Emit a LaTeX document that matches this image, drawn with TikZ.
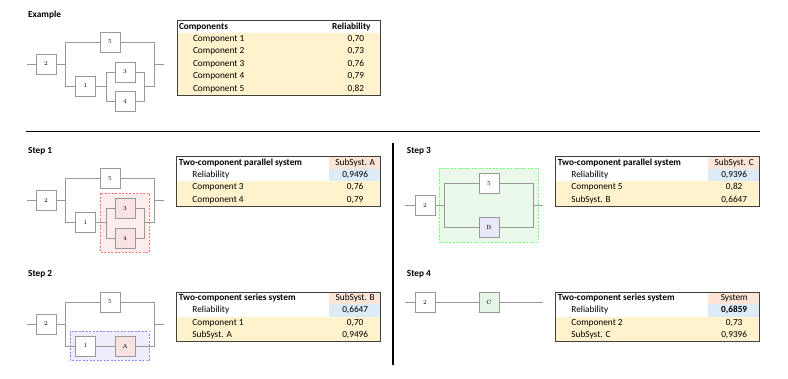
\documentclass[tikz,border=0pt]{standalone}
\usepackage{fontspec}
\newfontfamily\calfont{Carlito}
\usepackage{tikz}
\usepackage{xcolor}

\definecolor{cellyellow}{HTML}{FFF2CC}
\definecolor{cellpink}{HTML}{FCE4D6}
\definecolor{cellblue}{HTML}{DDEBF7}
\definecolor{wiregray}{HTML}{999999}
\definecolor{redarea}{HTML}{FDEDED}
\definecolor{redcomp}{HTML}{F8E2E2}
\definecolor{bluearea}{HTML}{EDEDFC}
\definecolor{bluecomp}{HTML}{E8E8F8}
\definecolor{greenarea}{HTML}{EBF9EB}
\definecolor{greencomp}{HTML}{E6F5E6}

\tikzset{
  comp/.style={draw=wiregray,fill=white,minimum size=20pt,inner sep=0pt,line width=0.8pt,font=\fontsize{6}{7}\selectfont},
  wire/.style={wiregray,line width=0.8pt},
  headtxt/.style={font=\calfont\fontsize{9.3}{10}\selectfont\bfseries,inner sep=0pt,text height=6.5pt,text depth=2pt},
  celltxt/.style={font=\calfont\fontsize{9.3}{10}\selectfont,inner sep=0pt,text height=6.5pt,text depth=2pt},
  steplabel/.style={font=\calfont\fontsize{9.3}{10}\selectfont\bfseries,anchor=west,inner sep=0pt},
  tableframe/.style={draw=black!75,line width=0.8pt},
  area/.style={line width=0.6pt,dash pattern=on 2pt off 1.5pt}
}

% #1 corner, #2 title, #3 subsystem, #4 reliability, #5-#8 the two inputs
\newcommand{\steptable}[8]{%
  \begin{scope}[shift={(#1)}]
    \fill[cellyellow] (0,24.7) rectangle (204,49.4);
    \fill[cellpink] (152.5,0) rectangle (204,12.35);
    \fill[cellblue] (152.5,12.35) rectangle (204,24.7);
    \draw[tableframe] (0,0) rectangle (204,49.4);
    \node[headtxt,anchor=west] (#1-title) at (2,6.2) {#2};
    \node[celltxt] (#1-name) at (178.5,6.2) {#3};
    \node[celltxt,anchor=west] (#1-rlab) at (15.5,18.5) {Reliability};
    \node[celltxt] (#1-rval) at (178.5,18.5) {#4};
    \node[celltxt,anchor=west] (#1-lab1) at (15.5,30.9) {#5};
    \node[celltxt] (#1-val1) at (178.5,30.9) {#6};
    \node[celltxt,anchor=west] (#1-lab2) at (15.5,43.2) {#7};
    \node[celltxt] (#1-val2) at (178.5,43.2) {#8};
  \end{scope}}

\begin{document}
\begin{tikzpicture}[x=1pt,y=-1pt]
  \fill[white] (0,0) rectangle (788,379);
  \useasboundingbox (0,0) rectangle (788,379);

  % headings and separators
  \node[steplabel] (lex) at (28,15) {Example};
  \node[steplabel] (ls1) at (28,151) {Step 1};
  \node[steplabel] (ls2) at (28,274.3) {Step 2};
  \node[steplabel] (ls3) at (406.7,151) {Step 3};
  \node[steplabel] (ls4) at (406.7,274.3) {Step 4};
  \draw[line width=1.6pt] (26,131.5) -- (759.5,131.5);
  \draw[line width=1.6pt] (393,143) -- (393,365);

  % example
  \node[comp] (e2) at (46,64) {2};
  \node[comp] (e5) at (110,42) {5};
  \node[comp] (e1) at (85.5,86) {1};
  \node[comp] (e3) at (125,72) {3};
  \node[comp] (e4) at (125,101.7) {4};
  \coordinate (ein) at (27,64);
  \coordinate (ejl) at (65,64);
  \coordinate (ejr) at (154,64);
  \coordinate (eout) at (164,64);
  \coordinate (epl) at (106,86);
  \coordinate (epr) at (144,86);
  \draw[wire] (ein) -- (e2) -- (ejl);
  \draw[wire] (ejl) |- (e5);
  \draw[wire] (ejl) |- (e1);
  \draw[wire] (e1) -- (epl);
  \draw[wire] (epl) |- (e3);
  \draw[wire] (epl) |- (e4);
  \draw[wire] (e3) -| (epr);
  \draw[wire] (e4) -| (epr);
  \draw[wire] (epr) -| (ejr);
  \draw[wire] (e5) -| (ejr);
  \draw[wire] (ejr) -- (eout);

  \coordinate (t0) at (177.3,20.7);
  \begin{scope}[shift={(t0)}]
    \fill[cellyellow] (0,12.4) rectangle (203.4,74.3);
    \draw[tableframe] (0,0) rectangle (203.4,74.3);
    \node[headtxt,anchor=west] (t0-head) at (1.5,6.2) {Components};
    \node[headtxt,anchor=east] (t0-rel) at (193.5,6.2) {Reliability};
    \foreach \i/\v in {1/{0,70},2/{0,73},3/{0,76},4/{0,79},5/{0,82}}
    {
      \node[celltxt,anchor=west] (t0-c\i) at (15.5,{6.2+12.38*\i}) {Component \i};
      \node[celltxt] (t0-v\i) at (178.5,{6.2+12.38*\i}) {\v};
    }
  \end{scope}

  % step 1
  \fill[redarea] (100,193.3) rectangle (149.3,252.3);
  \draw[area,red!55] (100,193.3) rectangle (149.3,252.3);
  \node[comp] (a2) at (46,200.5) {2};
  \node[comp] (a5) at (110,178.5) {5};
  \node[comp] (a1) at (85.5,222.5) {1};
  \node[comp,fill=redcomp] (a3) at (125,208.5) {3};
  \node[comp,fill=redcomp] (a4) at (125,238.2) {4};
  \coordinate (ain) at (27,200.5);
  \coordinate (ajl) at (65,200.5);
  \coordinate (ajr) at (154,200.5);
  \coordinate (aout) at (164,200.5);
  \coordinate (apl) at (106,222.5);
  \coordinate (apr) at (144,222.5);
  \draw[wire] (ain) -- (a2) -- (ajl);
  \draw[wire] (ajl) |- (a5);
  \draw[wire] (ajl) |- (a1);
  \draw[wire] (a1) -- (apl);
  \draw[wire] (apl) |- (a3);
  \draw[wire] (apl) |- (a4);
  \draw[wire] (a3) -| (apr);
  \draw[wire] (a4) -| (apr);
  \draw[wire] (apr) -| (ajr);
  \draw[wire] (a5) -| (ajr);
  \draw[wire] (ajr) -- (aout);
  \coordinate (t1) at (176.7,156.7);
  \steptable{t1}{Two-component parallel system}{SubSyst. A}{0,9496}{Component 3}{0,76}{Component 4}{0,79}

  % step 2
  \fill[bluearea] (70,331) rectangle (149.3,360.3);
  \draw[area,blue!45] (70,331) rectangle (149.3,360.3);
  \node[comp] (b2) at (46,324) {2};
  \node[comp] (b5) at (110,302) {5};
  \node[comp] (b1) at (85.5,346) {1};
  \node[comp,fill=redcomp] (bA) at (125,346) {A};
  \coordinate (bin) at (27,324);
  \coordinate (bjl) at (65,324);
  \coordinate (bjr) at (154,324);
  \coordinate (bout) at (164,324);
  \draw[wire] (bin) -- (b2) -- (bjl);
  \draw[wire] (bjl) |- (b5);
  \draw[wire] (bjl) |- (b1);
  \draw[wire] (b1) -- (bA);
  \draw[wire] (bA) -| (bjr);
  \draw[wire] (b5) -| (bjr);
  \draw[wire] (bjr) -- (bout);
  \coordinate (t2) at (176.7,292);
  \steptable{t2}{Two-component series system}{SubSyst. B}{0,6647}{Component 1}{0,70}{SubSyst. A}{0,9496}

  % step 3
  \fill[greenarea] (439.3,168.3) rectangle (538.3,242.3);
  \draw[area,green!55] (439.3,168.3) rectangle (538.3,242.3);
  \node[comp] (c2) at (425,205.3) {2};
  \node[comp] (c5) at (489,183.3) {5};
  \node[comp,fill=bluecomp] (cB) at (489,227.7) {B};
  \coordinate (cin) at (405.3,205.3);
  \coordinate (cjl) at (444.3,205.3);
  \coordinate (cjr) at (533.3,205.3);
  \coordinate (cout) at (542.7,205.3);
  \draw[wire] (cin) -- (c2) -- (cjl);
  \draw[wire] (cjl) |- (c5);
  \draw[wire] (cjl) |- (cB);
  \draw[wire] (c5) -| (cjr);
  \draw[wire] (cB) -| (cjr);
  \draw[wire] (cjr) -- (cout);
  \coordinate (t3) at (555.7,156.7);
  \steptable{t3}{Two-component parallel system}{SubSyst. C}{0,9396}{Component 5}{0,82}{SubSyst. B}{0,6647}

  % step 4
  \node[comp] (d2) at (425,302.3) {2};
  \node[comp,fill=greencomp] (dC) at (489,302.3) {C};
  \coordinate (din) at (405.3,302.3);
  \coordinate (dout) at (542.7,302.3);
  \draw[wire] (din) -- (d2) -- (dC) -- (dout);
  \coordinate (t4) at (555.7,292);
  \steptable{t4}{Two-component series system}{System}{\bfseries 0,6859}{Component 2}{0,73}{SubSyst. C}{0,9396}
\end{tikzpicture}
\end{document}
